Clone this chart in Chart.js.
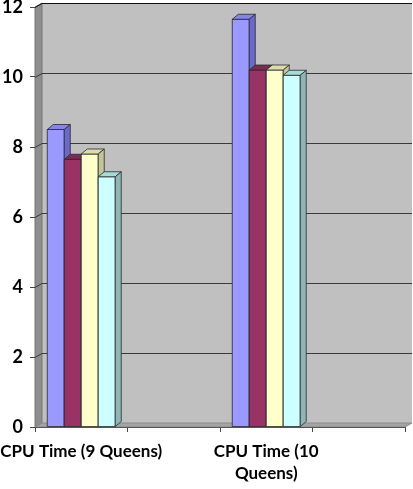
<!DOCTYPE html>
<html>
<head>
<meta charset="utf-8">
<script src="https://cdn.jsdelivr.net/npm/chart.js@4"></script>
<style>
html,body{margin:0;padding:0;background:#fff;}
#wrap{width:413px;height:489px;position:relative;}
</style>
</head>
<body>
<div id="wrap"><canvas id="c" width="413" height="489"></canvas></div>
<script>
// ---- data ----
const categories = ["CPU Time (9 Queens)", "", "CPU Time (10 Queens)", ""];
const tickLabels = [["CPU Time (9 Queens)"], "", ["CPU Time (10", "Queens)"], ""];
const seriesNames = ["Series1", "Series2", "Series3", "Series4"];
const series1 = [8.5, null, 11.65, null];
const series2 = [7.65, null, 10.2, null];
const series3 = [7.8, null, 10.2, null];
const series4 = [7.15, null, 10.05, null];
const yTicks = [0, 2, 4, 6, 8, 10, 12];

const fronts = ["#9999ff", "#993366", "#ffffcc", "#ccffff"];
const tops   = ["#8585e6", "#7d2a54", "#dcdcae", "#a9dada"];
const sides  = ["#6a6acc", "#6e2449", "#c4c49a", "#8fb6b6"];

const WALL = {dx: 7, dy: 4};
const BAR = {dx: 6, dy: 5};

const walls3d = {
  id: 'walls3d',
  beforeDraw(chart) {
    const ctx = chart.ctx, a = chart.chartArea, ys = chart.scales.y;
    const L = a.left, R = a.right, T = a.top, B = a.bottom, dx = WALL.dx, dy = WALL.dy;
    ctx.save();
    ctx.fillStyle = '#c0c0c0';
    ctx.fillRect(L + dx, T - dy, R - L, B - T);
    ctx.beginPath();
    ctx.moveTo(L, T); ctx.lineTo(L + dx, T - dy); ctx.lineTo(L + dx, B - dy); ctx.lineTo(L, B); ctx.closePath();
    ctx.fillStyle = '#8e8e8e'; ctx.fill();
    ctx.strokeStyle = '#777'; ctx.lineWidth = 1; ctx.stroke();
    ctx.beginPath();
    ctx.moveTo(L, B); ctx.lineTo(L + dx, B - dy); ctx.lineTo(R + dx, B - dy); ctx.lineTo(R, B); ctx.closePath();
    ctx.fillStyle = '#a4a4a4'; ctx.fill();
    ctx.strokeStyle = '#8a8a8a'; ctx.stroke();
    yTicks.forEach(v => {
      if (v === 0) return;
      const y = Math.round(ys.getPixelForValue(v)) + 0.5;
      ctx.beginPath();
      ctx.moveTo(L, y); ctx.lineTo(L + dx, y - dy); ctx.lineTo(R + dx, y - dy);
      ctx.strokeStyle = v === 12 ? '#111' : '#3a3a3a';
      ctx.lineWidth = 1;
      ctx.stroke();
    });
    ctx.restore();
  }
};

const bars3d = {
  id: 'bars3d',
  afterDatasetsDraw(chart) {
    const ctx = chart.ctx;
    ctx.save();
    ctx.lineWidth = 0.8;
    ctx.strokeStyle = '#2a2a2a';
    ctx.lineJoin = 'round';
    chart.data.datasets.forEach((ds, di) => {
      const meta = chart.getDatasetMeta(di);
      meta.data.forEach((bar, i) => {
        if (ds.data[i] == null) return;
        const p = bar.getProps(['x', 'y', 'base', 'width'], true);
        const l = p.x - p.width / 2, r = p.x + p.width / 2, t = p.y, b = p.base;
        const dx = BAR.dx, dy = BAR.dy;
        ctx.fillStyle = fronts[di];
        ctx.fillRect(l, t, r - l, b - t);
        ctx.strokeRect(l, t, r - l, b - t);
        ctx.beginPath();
        ctx.moveTo(l, t); ctx.lineTo(l + dx, t - dy); ctx.lineTo(r + dx, t - dy); ctx.lineTo(r, t); ctx.closePath();
        ctx.fillStyle = tops[di]; ctx.fill(); ctx.stroke();
        ctx.beginPath();
        ctx.moveTo(r, t); ctx.lineTo(r + dx, t - dy); ctx.lineTo(r + dx, b - dy); ctx.lineTo(r, b); ctx.closePath();
        ctx.fillStyle = sides[di]; ctx.fill(); ctx.stroke();
      });
    });
    ctx.restore();
  }
};

const allSeries = [series1, series2, series3, series4];
const fontFamily = 'Lato, "Open Sans", sans-serif';

new Chart(document.getElementById('c'), {
  type: 'bar',
  data: {
    labels: categories,
    datasets: allSeries.map((d, i) => ({
      label: seriesNames[i],
      data: d,
      backgroundColor: fronts[i],
      borderWidth: 0,
      categoryPercentage: 0.735,
      barPercentage: 1.0
    }))
  },
  options: {
    responsive: false,
    animation: false,
    devicePixelRatio: 1,
    layout: {padding: {top: 7, right: 8, left: 0, bottom: 0}},
    plugins: {legend: {display: false}, tooltip: {enabled: false}, title: {display: false}},
    scales: {
      x: {
        grid: {color: 'transparent', tickColor: '#444', tickLength: 5, offset: true},
        border: {display: true, color: '#555', width: 1},
        ticks: {
          autoSkip: false, maxRotation: 0, minRotation: 0, padding: 8,
          color: '#000',
          font: {family: fontFamily, weight: 'bold', size: 17, lineHeight: 1.3},
          callback: (v, i) => tickLabels[i]
        },
        afterFit: s => { s.height = 62; s.paddingLeft = 0; s.paddingRight = 0; }
      },
      y: {
        min: 0, max: 12,
        afterBuildTicks: s => { s.ticks = yTicks.map(v => ({value: v})); },
        grid: {color: 'transparent', tickColor: '#444', tickLength: 5},
        border: {display: false},
        ticks: {
          padding: 7, color: '#000',
          font: {family: fontFamily, weight: 'bold', size: 18}
        },
        afterFit: s => { s.width = 35; s.paddingTop = 0; s.paddingBottom = 0; }
      }
    }
  },
  plugins: [walls3d, bars3d]
});
</script>
</body>
</html>
